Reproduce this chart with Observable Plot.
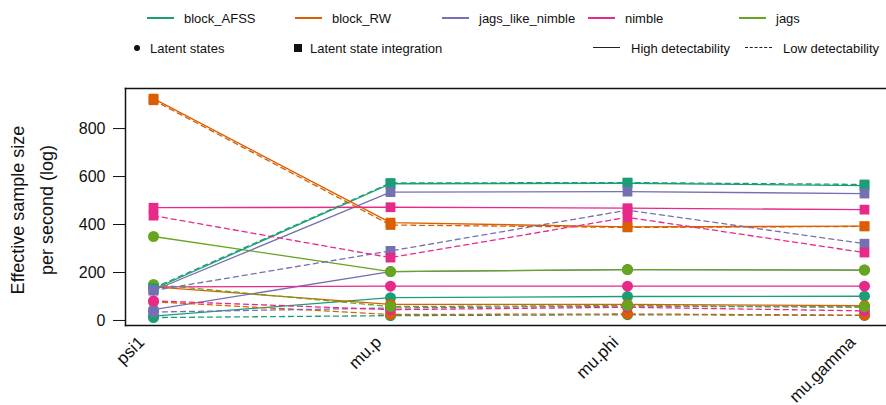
<!DOCTYPE html>
<html><head><meta charset="utf-8">
<script src="https://cdn.jsdelivr.net/npm/d3@7"></script>
<script src="https://cdn.jsdelivr.net/npm/@observablehq/plot@0.6"></script>
<style>
body{margin:0;background:#fff;font-family:"Liberation Sans",Arial,sans-serif;}
#wrap{position:relative;width:886px;height:405px;overflow:hidden;}
#legend{position:relative;width:886px;height:62px;font-size:13px;color:#111;}
.sw{position:absolute;}
.lt{position:absolute;white-space:nowrap;transform:translateY(-50%);line-height:1;}
#chart svg{display:block;}
</style></head><body>
<div id="wrap"><div id="legend"></div><div id="chart"></div></div>
<script>
const params = ["psi1", "mu.p", "mu.phi", "mu.gamma"];
const samplers = ["block_AFSS", "block_RW", "jags_like_nimble", "nimble", "jags"];
const colors = ["#1B9E77", "#D95F02", "#7570B3", "#E7298A", "#66A61E"];
const yTicks = [0, 200, 400, 600, 800];

// Latent states (circles)
const block_AFSS_LS_high = [18, 95, 100, 101];
const block_AFSS_LS_low = [12, 20, 24, 21];
const block_RW_LS_high = [140, 67, 67, 62];
const block_RW_LS_low = [78, 25, 27, 22];
const jags_like_nimble_LS_high = [45, 204, 212, 210];
const jags_like_nimble_LS_low = [35, 52, 60, 55];
const nimble_LS_high = [140, 143, 143, 143];
const nimble_LS_low = [82, 45, 55, 40];
const jags_LS_high = [350, 204, 212, 210];
const jags_LS_low = [150, 58, 62, 57];

// Latent state integration (squares)
const block_AFSS_LSI_high = [130, 570, 572, 562];
const block_AFSS_LSI_low = [135, 573, 575, 567];
const block_RW_LSI_high = [925, 408, 390, 393];
const block_RW_LSI_low = [918, 398, 388, 392];
const jags_like_nimble_LSI_high = [125, 535, 537, 529];
const jags_like_nimble_LSI_low = [125, 290, 460, 320];
const nimble_LSI_high = [470, 472, 468, 462];
const nimble_LSI_low = [437, 262, 430, 283];

const series = [
  ["block_AFSS", "LS", "high", block_AFSS_LS_high],
  ["block_AFSS", "LS", "low", block_AFSS_LS_low],
  ["block_RW", "LS", "high", block_RW_LS_high],
  ["block_RW", "LS", "low", block_RW_LS_low],
  ["jags_like_nimble", "LS", "high", jags_like_nimble_LS_high],
  ["jags_like_nimble", "LS", "low", jags_like_nimble_LS_low],
  ["nimble", "LS", "high", nimble_LS_high],
  ["nimble", "LS", "low", nimble_LS_low],
  ["jags", "LS", "high", jags_LS_high],
  ["jags", "LS", "low", jags_LS_low],
  ["block_AFSS", "LSI", "high", block_AFSS_LSI_high],
  ["block_AFSS", "LSI", "low", block_AFSS_LSI_low],
  ["block_RW", "LSI", "high", block_RW_LSI_high],
  ["block_RW", "LSI", "low", block_RW_LSI_low],
  ["jags_like_nimble", "LSI", "high", jags_like_nimble_LSI_high],
  ["jags_like_nimble", "LSI", "low", jags_like_nimble_LSI_low],
  ["nimble", "LSI", "high", nimble_LSI_high],
  ["nimble", "LSI", "low", nimble_LSI_low]
];

const rows = series.flatMap(([sampler, model, detect, vals]) =>
  vals.map((v, i) => ({sampler, model, detect, param: params[i], value: v, key: sampler + model + detect})));

const high = rows.filter(d => d.detect === "high");
const low = rows.filter(d => d.detect === "low");
const ls = rows.filter(d => d.model === "LS");
const lsi = rows.filter(d => d.model === "LSI");

const chart = Plot.plot({
  width: 886,
  height: 343,
  marginTop: 26,
  marginBottom: 80,
  marginLeft: 125,
  marginRight: 0,
  style: {fontFamily: '"Liberation Sans", Arial, sans-serif', fontSize: "16px", color: "#111", background: "#fff"},
  x: {type: "point", domain: params, range: [153, 864], padding: 0},
  y: {domain: [-21, 967]},
  color: {domain: samplers, range: colors},
  marks: [
    Plot.line(high, {x: "param", y: "value", z: "key", stroke: "sampler", strokeWidth: 1.3}),
    Plot.line(low, {x: "param", y: "value", z: "key", stroke: "sampler", strokeWidth: 1.3, strokeDasharray: "5,4"}),
    Plot.dot(ls, {x: "param", y: "value", fill: "sampler", r: 5.5, symbol: "circle"}),
    Plot.dot(lsi, {x: "param", y: "value", fill: "sampler", r: 5.5, symbol: "square"}),
    Plot.frame({anchor: "top", stroke: "#111", strokeWidth: 1.5}),
    Plot.frame({anchor: "bottom", stroke: "#111", strokeWidth: 1.5}),
    Plot.frame({anchor: "left", stroke: "#111", strokeWidth: 1.5}),
    Plot.axisY({ticks: yTicks, tickSize: 12, tickPadding: 8, fontSize: 16, label: null, stroke: "#111"}),
    Plot.axisX({tickRotate: -45, tickSize: 0, tickPadding: 10, fontSize: 17, dx: -12, dy: 4, label: null}),
    Plot.text(["Effective sample size\nper second (log)"], {frameAnchor: "left", text: d => d, rotate: -90, dx: -96, dy: 3, fontSize: 18, lineHeight: 1.6, textAnchor: "middle"})
  ]
});
document.getElementById("chart").appendChild(chart);

// Legend
const leg = document.getElementById("legend");
function add(html) { leg.insertAdjacentHTML("beforeend", html); }
const row1x = [147, 295, 442, 588, 739];
samplers.forEach((s, i) => {
  const x = row1x[i];
  add(`<div class="sw" style="left:${x}px;top:17px;width:27px;height:2px;background:${colors[i]}"></div>`);
  add(`<div class="lt" style="left:${x + 37}px;top:18px">${s}</div>`);
});
add(`<div class="sw" style="left:134px;top:45px;width:6px;height:6px;border-radius:50%;background:#111"></div>`);
add(`<div class="lt" style="left:150px;top:48px">Latent states</div>`);
add(`<div class="sw" style="left:294px;top:44px;width:8px;height:8px;background:#111"></div>`);
add(`<div class="lt" style="left:310px;top:48px">Latent state integration</div>`);
add(`<div class="sw" style="left:593px;top:47px;width:27px;height:0;border-top:1.5px solid #222"></div>`);
add(`<div class="lt" style="left:631px;top:48px">High detectability</div>`);
add(`<div class="sw" style="left:745px;top:47px;width:27px;height:0;border-top:1.5px dashed #222"></div>`);
add(`<div class="lt" style="left:783px;top:48px">Low detectability</div>`);
</script>
</body></html>
